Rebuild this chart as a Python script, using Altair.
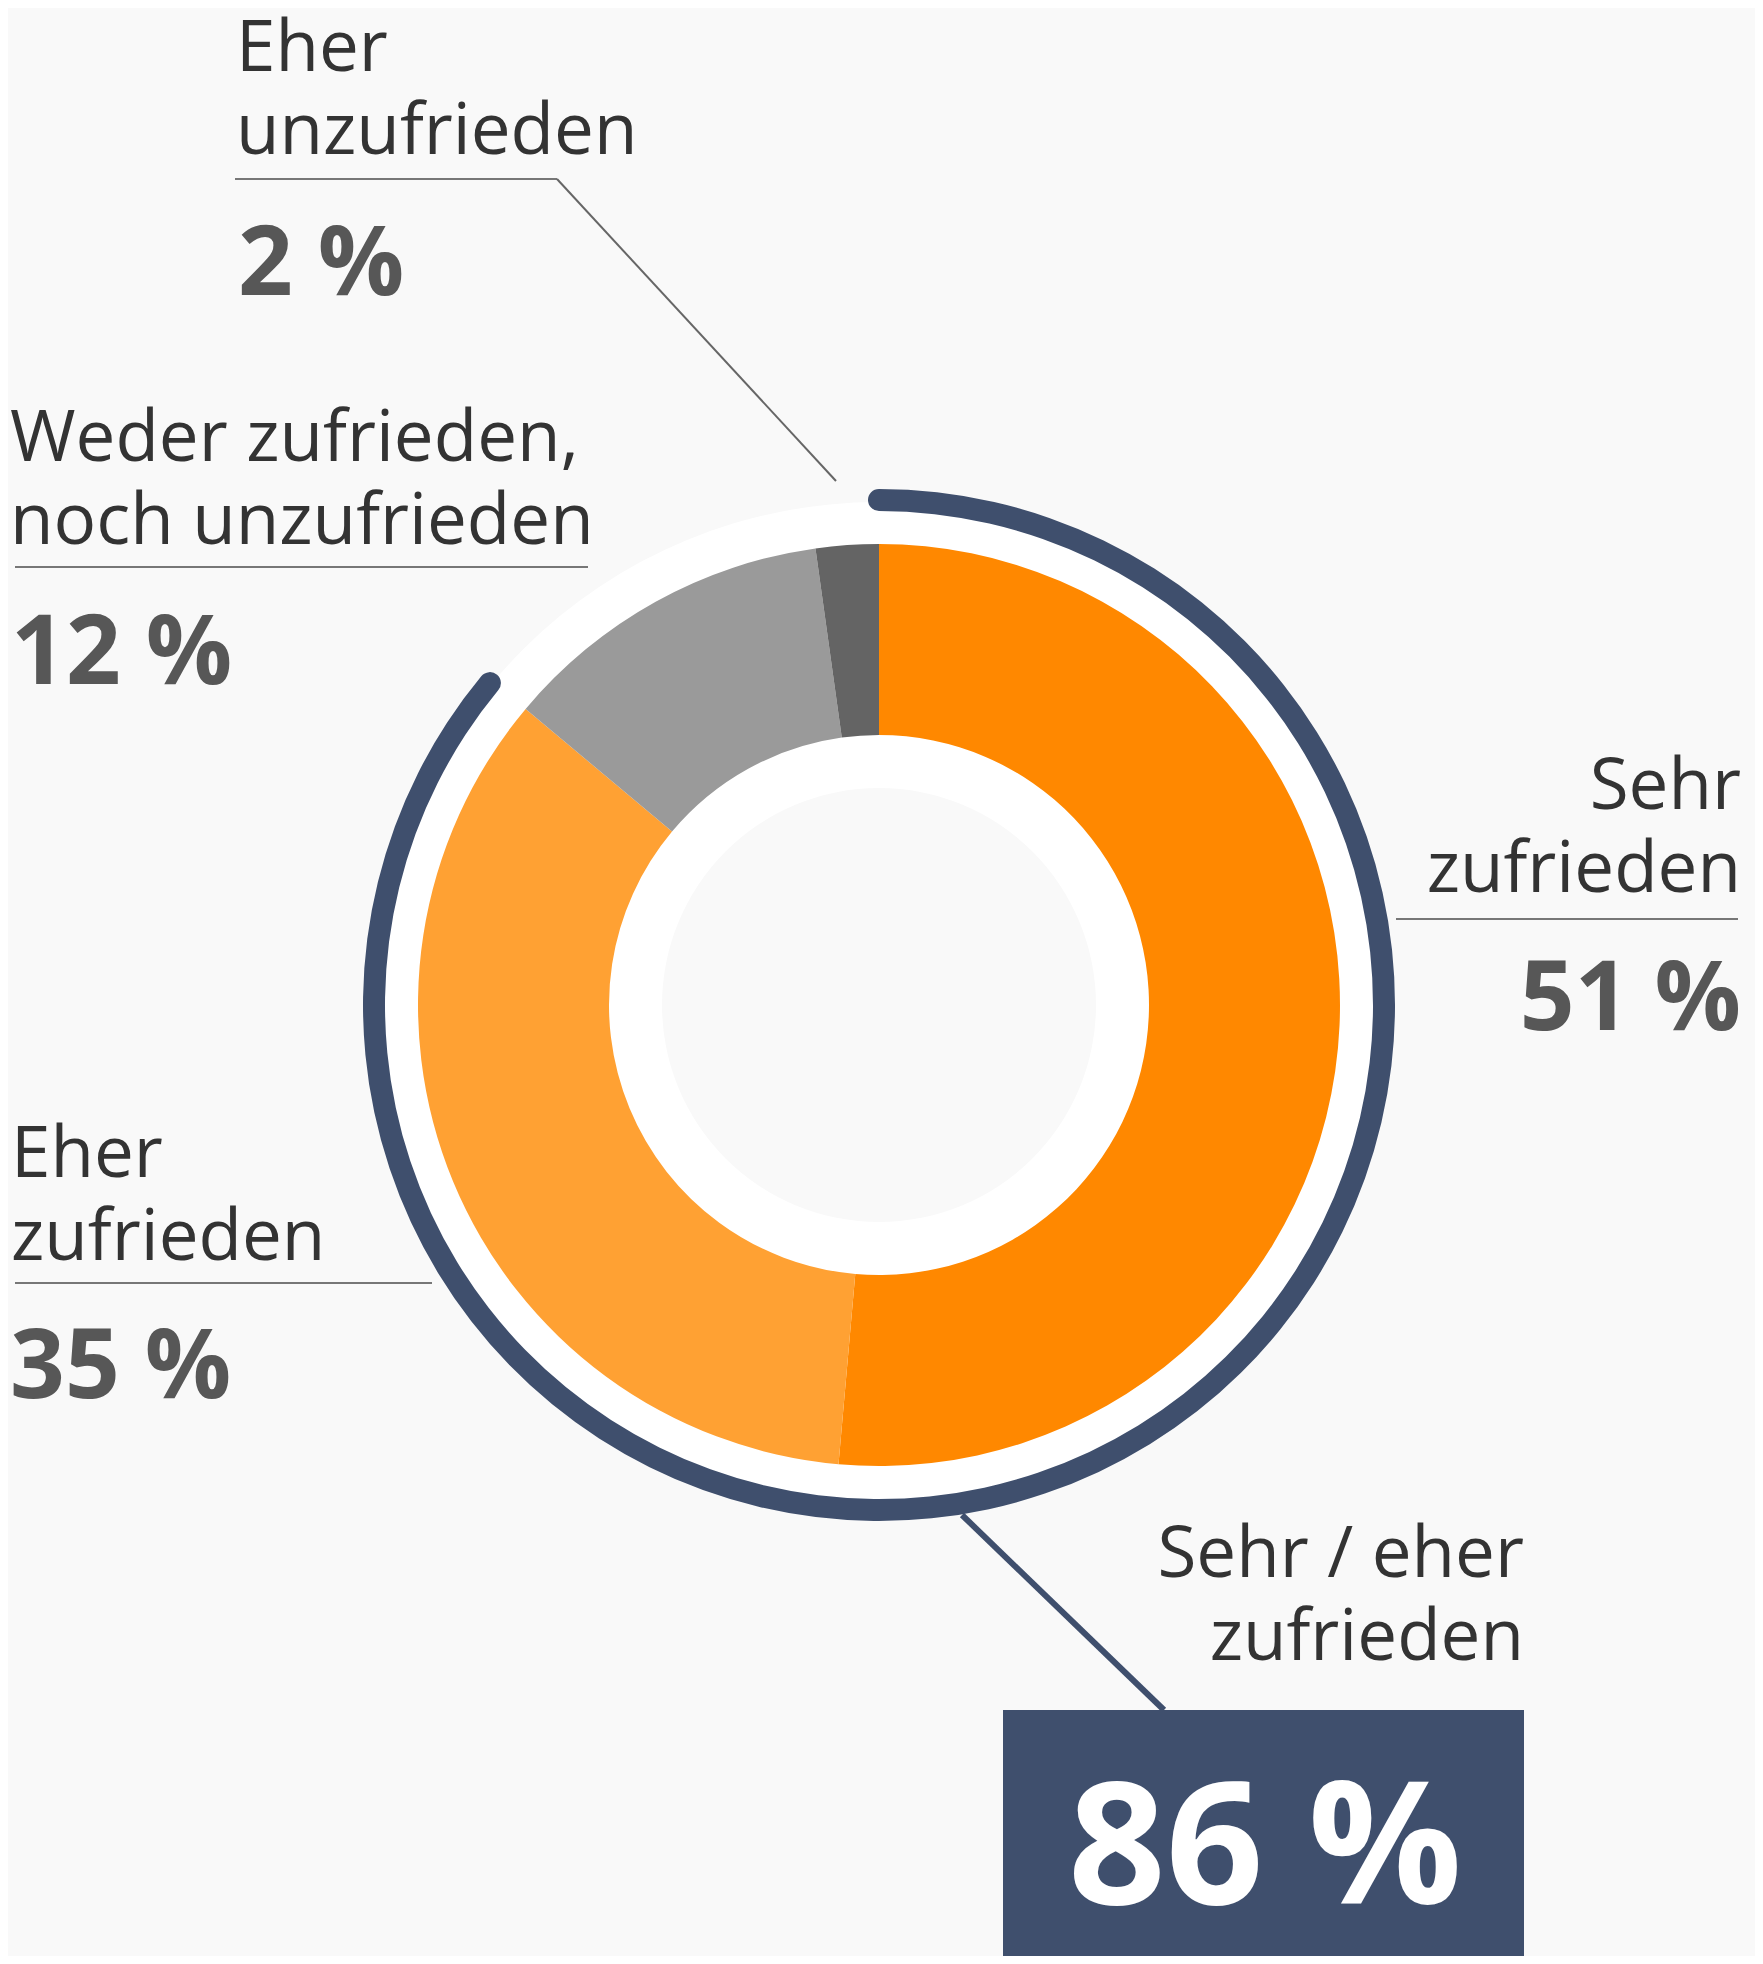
import math
import altair as alt
import pandas as pd

# ---------------- data ----------------
categories = ["Sehr zufrieden", "Eher zufrieden",
              "Weder zufrieden, noch unzufrieden", "Eher unzufrieden"]
values = [51, 35, 12, 2]            # printed (rounded) shares
shares = [51.4, 34.7, 11.7, 2.2]    # slice sizes
label_lines = [["Sehr", "zufrieden"], ["Eher", "zufrieden"],
               ["Weder zufrieden,", "noch unzufrieden"], ["Eher", "unzufrieden"]]
total_lines = ["Sehr / eher", "zufrieden"]
total_value = 86

# ---------------- style ----------------
slice_colors = ["#ff8800", "#ffa133", "#9a9a9a", "#646464"]
NAVY = "#3f4f6d"
BG = "#f9f9f9"
TEXT = "#333333"
VALUE = "#575757"
FONT = "Open Sans"

# ---------------- layout (picture pixel coordinates) ----------------
W, H, M = 1747, 1948, 8
CX, CY = 879, 1005
R_PIE_OUT, R_PIE_IN = 461, 270
R_WHITE_OUT, R_WHITE_IN = 503, 217
R_NAVY_OUT, R_NAVY_IN = 516, 494
TAU = 2 * math.pi

label_x = [1741, 11, 10, 236]
value_x = [1741, 10, 11, 238]
label_align = ["right", "left", "left", "left"]
label_base1 = [809, 1177, 461, 71]
LINE_GAP = 83
underline_y = [919, 1283, 567, 179]
underline_x0 = [1396, 15, 15, 235]
underline_x1 = [1738, 432, 588, 557]
value_base = [1030, 1398, 684, 295]
leader_small = [(557, 179, 836, 481)]
leader_total = [(962, 1515, 1164, 1710)]
total_x = 1524
total_base = [1577, 1660]
box = [(1003, 1710, 1524, 1956)]
big_center = (1265, 1904)

xs = alt.Scale(domain=[M, M + W], range=[0, W], nice=False, zero=False)
ys = alt.Scale(domain=[M, M + H], range=[0, H], nice=False, zero=False)


def X(f):
    return alt.X(f, type="quantitative", scale=xs, axis=None)


def Y(f):
    return alt.Y(f, type="quantitative", scale=ys, axis=None)


def CXd():
    return alt.XDatum(CX, type="quantitative", scale=xs, axis=None)


def CYd():
    return alt.YDatum(CY, type="quantitative", scale=ys, axis=None)


total = 100

# ---- white annulus ----
white_df = pd.DataFrame({"v": [total]})
white = alt.Chart(white_df).mark_arc(
    radius=R_WHITE_OUT, radius2=R_WHITE_IN, color="#ffffff"
).encode(
    x=CXd(), y=CYd(),
    theta=alt.Theta("v:Q", stack=True,
                    scale=alt.Scale(domain=[0, total], range=[0, TAU])),
)

# ---- pie slices ----
pie_df = pd.DataFrame({"category": categories, "value": shares,
                       "order": list(range(len(categories)))})
pie = alt.Chart(pie_df).mark_arc(
    radius=R_PIE_OUT, radius2=R_PIE_IN
).encode(
    x=CXd(), y=CYd(),
    theta=alt.Theta("value:Q", stack=True,
                    scale=alt.Scale(domain=[0, sum(shares)], range=[0, TAU])),
    order=alt.Order("order:Q"),
    color=alt.Color("category:N",
                    scale=alt.Scale(domain=categories, range=slice_colors),
                    legend=None),
)

# ---- navy ring for the combined share (round caps) ----
cap = (R_NAVY_OUT - R_NAVY_IN) / 2
d = cap / ((R_NAVY_OUT + R_NAVY_IN) / 2)
end = total_value / total * TAU + d
b = (end + d) / total_value
navy_df = pd.DataFrame({"v": [total_value]})
navy = alt.Chart(navy_df).mark_arc(
    radius=R_NAVY_OUT, radius2=R_NAVY_IN, cornerRadius=cap, color=NAVY
).encode(
    x=CXd(), y=CYd(),
    theta=alt.Theta("v:Q", stack=True,
                    scale=alt.Scale(domain=[0, total], range=[-d, -d + total * b])),
)

# ---- underlines ----
ul_df = pd.DataFrame({"x": underline_x0, "x2": underline_x1,
                      "y": underline_y, "y2": underline_y})
underlines = alt.Chart(ul_df).mark_rule(color="#777777", strokeWidth=2.2).encode(
    x=X("x"), x2="x2", y=Y("y"), y2="y2")

ls_df = pd.DataFrame(leader_small, columns=["x", "y", "x2", "y2"])
leader1 = alt.Chart(ls_df).mark_rule(color="#666666", strokeWidth=2).encode(
    x=X("x"), x2="x2", y=Y("y"), y2="y2")

lt_df = pd.DataFrame(leader_total, columns=["x", "y", "x2", "y2"])
leader2 = alt.Chart(lt_df).mark_rule(color=NAVY, strokeWidth=6).encode(
    x=X("x"), x2="x2", y=Y("y"), y2="y2")

box_df = pd.DataFrame(box, columns=["x", "y", "x2", "y2"])
box_layer = alt.Chart(box_df).mark_rect(color=NAVY).encode(
    x=X("x"), x2="x2", y=Y("y"), y2="y2")

# ---- texts ----
lab_rows, val_rows = [], []
for i in range(len(categories)):
    for j, line in enumerate(label_lines[i]):
        lab_rows.append({"text": line, "x": label_x[i],
                         "y": label_base1[i] + j * LINE_GAP, "align": label_align[i]})
    val_rows.append({"text": f"{values[i]} %", "x": value_x[i],
                     "y": value_base[i], "align": label_align[i]})
for j, line in enumerate(total_lines):
    lab_rows.append({"text": line, "x": total_x, "y": total_base[j], "align": "right"})
lab_df = pd.DataFrame(lab_rows)
val_df = pd.DataFrame(val_rows)


def text_layer(df, align, **kw):
    return alt.Chart(df[df["align"] == align]).mark_text(
        align=align, baseline="alphabetic", font=FONT, **kw
    ).encode(x=X("x"), y=Y("y"), text="text:N")


labels_l = text_layer(lab_df, "left", fontSize=71, color=TEXT)
labels_r = text_layer(lab_df, "right", fontSize=71, color=TEXT)
values_l = text_layer(val_df, "left", fontSize=96, fontWeight="bold", color=VALUE)
values_r = text_layer(val_df, "right", fontSize=96, fontWeight="bold", color=VALUE)

big_df = pd.DataFrame({"text": [f"{total_value} %"],
                       "x": [big_center[0]], "y": [big_center[1]]})
big = alt.Chart(big_df).mark_text(
    align="center", baseline="alphabetic", font=FONT, fontSize=171,
    fontWeight="bold", color="#ffffff"
).encode(x=X("x"), y=Y("y"), text="text:N")

chart = alt.layer(
    white, pie, navy, underlines, leader1, leader2, box_layer,
    labels_l, labels_r, values_l, values_r, big
).resolve_scale(
    theta="independent"
).properties(
    width=W, height=H, autosize="none", padding=0, background=BG
).configure_view(stroke=None)

chart.save("out.html", embed_options={"renderer": "svg", "actions": False})
